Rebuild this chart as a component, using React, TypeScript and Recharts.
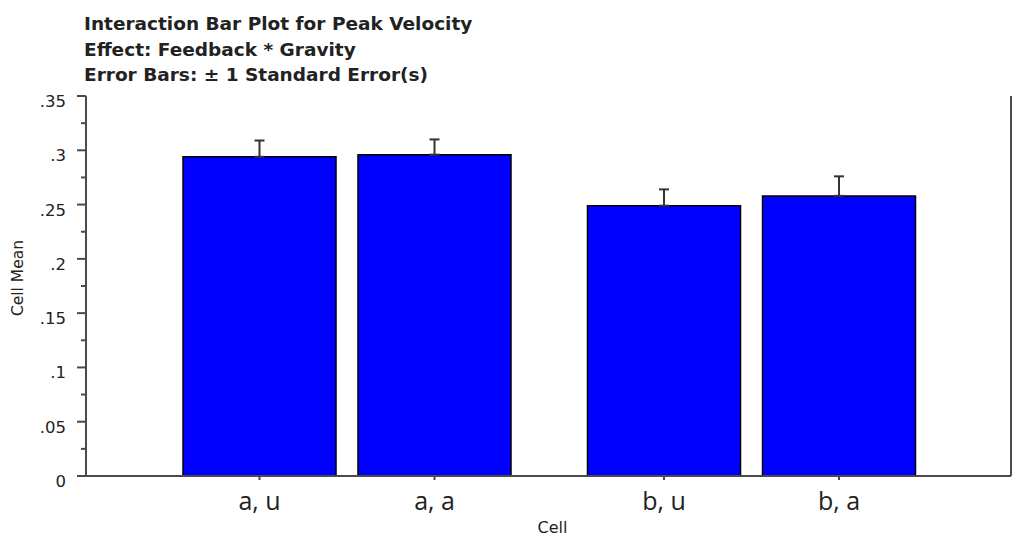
import { Bar, BarChart, ErrorBar, LabelList, XAxis, YAxis } from 'recharts'

// cell means by feedback group, one array per gravity level
const groups = ['a', 'b']
const uMeans = [0.294, 0.249]
const aMeans = [0.296, 0.258]
const uErrors = [0.015, 0.015]
const aErrors = [0.014, 0.018]
const yTicks = [0, 0.025, 0.05, 0.075, 0.1, 0.125, 0.15, 0.175, 0.2, 0.225, 0.25, 0.275, 0.3, 0.325, 0.35]
const titleLines = [
	'Interaction Bar Plot for Peak Velocity',
	'Effect: Feedback * Gravity',
	'Error Bars: ± 1 Standard Error(s)',
]

const data = groups.map((g, i) => ({
	group: g,
	u: uMeans[i],
	a: aMeans[i],
	// only the upper half of the error bar is drawn
	uErr: [0, uErrors[i]],
	aErr: [0, aErrors[i]],
	uLabel: `${g}, u`,
	aLabel: `${g}, a`,
}))

const AXIS = '#4a4a4a'
const TEXT = '#222'
const FONT = "'DejaVu Sans', sans-serif"

const isMajor = (v: number) => Math.round(v * 1000) % 50 === 0
const fmt = (v: number) => (v === 0 ? '0' : String(v).replace(/^0/, ''))

const LeftTick = (props: any) => {
	const { x, y, payload } = props
	const major = isMajor(payload.value)
	return <g>
		<line x1={x - (major ? 9 : 5)} x2={x} y1={y} y2={y} stroke={AXIS} strokeWidth={2} />
		{major && (
			<text x={x - 20} y={y + 11} textAnchor='end' fontFamily={FONT} fontSize={16.5} fill={TEXT}>
				{fmt(payload.value)}
			</text>
		)}
	</g>
}

const RightTick = (props: any) => {
	const { x, y, payload } = props
	const major = isMajor(payload.value)
	return <line x1={x} x2={x + (major ? 7 : 4)} y1={y} y2={y} stroke={AXIS} strokeWidth={2} />
}

const CellLabel = (props: any) => {
	const { x, y, width, height, value } = props
	const cx = Number(x) + Number(width) / 2
	const base = Number(y) + Number(height)
	return <g>
		<line x1={cx} x2={cx} y1={base} y2={base + 4} stroke={AXIS} strokeWidth={2} />
		<text x={cx} y={base + 34} textAnchor='middle' fontFamily="'Open Sans', sans-serif" fontSize={25} fill={TEXT}>
			{value}
		</text>
	</g>
}

const App = () => {
	return <div style={{ position: 'absolute', left: 0, top: 0, width: 1018, height: 538, background: '#fff' }}>
		<div style={{
			position: 'absolute', left: 84, top: 11, fontFamily: FONT, fontWeight: 'bold',
			fontSize: 18.5, lineHeight: '25.5px', color: TEXT, whiteSpace: 'nowrap',
		}}>
			{titleLines.map((t) => <div key={t}>{t}</div>)}
		</div>
		<BarChart
			width={1018}
			height={538}
			data={data}
			margin={{ top: 96, right: 0, bottom: 0, left: 0 }}
			barSize={153}
			barGap={22}
		>
			<XAxis xAxisId='top' orientation='top' dataKey='group' height={0} tick={false} tickLine={false}
				axisLine={{ stroke: AXIS, strokeWidth: 2 }} />
			<XAxis xAxisId='bottom' dataKey='group' height={62} tick={false} tickLine={false}
				padding={{ left: 59, right: 57 }} axisLine={{ stroke: AXIS, strokeWidth: 2 }}
				label={{
					content: (p: any) => (
						<text x={p.viewBox.x + p.viewBox.width / 2 + 4} y={533} textAnchor='middle'
							fontFamily={FONT} fontSize={16} fill={TEXT}>Cell</text>
					),
				}} />
			<YAxis yAxisId='left' width={86} domain={[0, 0.35]} ticks={yTicks} interval={0}
				tickSize={0} tickMargin={0} tickLine={false} tick={<LeftTick />}
				axisLine={{ stroke: AXIS, strokeWidth: 2 }}
				label={{
					content: () => (
						<text transform='translate(23,278) rotate(-90)' textAnchor='middle'
							fontFamily={FONT} fontSize={15.5} fill={TEXT}>Cell Mean</text>
					),
				}} />
			<YAxis yAxisId='right' orientation='right' width={7} domain={[0, 0.35]} ticks={yTicks} interval={0}
				tickSize={0} tickMargin={0} tickLine={false} tick={<RightTick />}
				axisLine={{ stroke: AXIS, strokeWidth: 2 }} />
			<Bar xAxisId='bottom' yAxisId='left' dataKey='u' fill='#0000FF' stroke='#000' strokeWidth={1.5}
				isAnimationActive={false}>
				<ErrorBar dataKey='uErr' direction='y' width={5} stroke='#333' strokeWidth={2} />
				<LabelList dataKey='uLabel' content={CellLabel} />
			</Bar>
			<Bar xAxisId='bottom' yAxisId='left' dataKey='a' fill='#0000FF' stroke='#000' strokeWidth={1.5}
				isAnimationActive={false}>
				<ErrorBar dataKey='aErr' direction='y' width={5} stroke='#333' strokeWidth={2} />
				<LabelList dataKey='aLabel' content={CellLabel} />
			</Bar>
		</BarChart>
	</div>
}

export default App
